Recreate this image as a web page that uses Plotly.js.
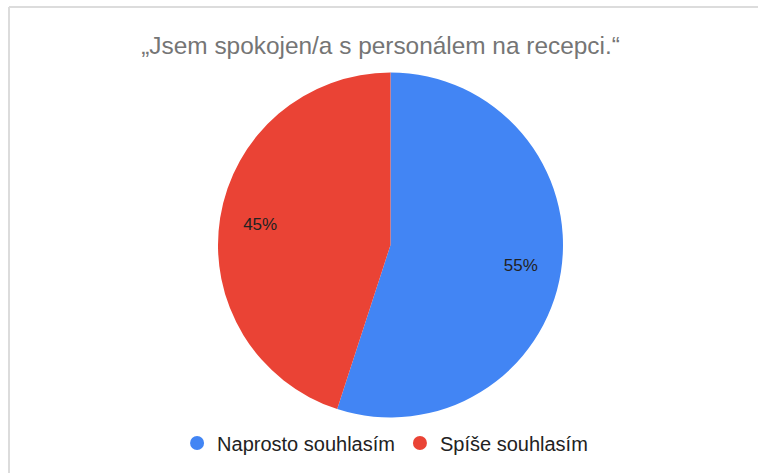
<!DOCTYPE html>
<html>
<head>
<meta charset="utf-8">
<script src="https://cdn.plot.ly/plotly-3.0.1.min.js"></script>
<style>
html,body{margin:0;padding:0;background:#fff;}
#chart{width:758px;height:473px;}
</style>
</head>
<body>
<div id="chart"></div>
<script>
const titleText = '\u201EJsem spokojen/a s personálem na recepci.\u201C';
const categories = ['Naprosto souhlasím', 'Spíše souhlasím'];
const values = [55, 45];
const colors = ['#4285f4', '#ea4335'];

const pieDomain = {x: [218/758, 563/758], y: [1 - 417.5/473, 1 - 72.5/473]};

const pieTrace = {
  type: 'pie',
  labels: categories,
  values: values,
  sort: false,
  direction: 'clockwise',
  rotation: 0,
  marker: {colors: colors, line: {width: 0}},
  textinfo: 'none',
  hoverinfo: 'label+percent',
  showlegend: false,
  domain: pieDomain
};

// transparent ring carrying the percentage labels further out on the radius
const labelTrace = {
  type: 'pie',
  labels: categories,
  values: values,
  sort: false,
  direction: 'clockwise',
  rotation: 0,
  hole: 0.53,
  marker: {colors: ['rgba(0,0,0,0)', 'rgba(0,0,0,0)'], line: {width: 0}},
  textinfo: 'percent',
  textposition: 'inside',
  insidetextorientation: 'horizontal',
  textfont: {family: 'Liberation Sans, Arial, sans-serif', size: 17, color: '#222222'},
  hoverinfo: 'skip',
  showlegend: false,
  domain: pieDomain
};

const legendTraces = categories.map((c, i) => ({
  type: 'scatter',
  mode: 'markers',
  x: [null], y: [null],
  name: c,
  marker: {symbol: 'circle', size: 14, color: colors[i]},
  showlegend: true,
  hoverinfo: 'skip'
}));

const layout = {
  width: 758, height: 473,
  margin: {l: 0, r: 0, t: 0, b: 0},
  paper_bgcolor: '#ffffff',
  plot_bgcolor: 'rgba(0,0,0,0)',
  title: {
    text: titleText,
    font: {family: 'Liberation Sans, Arial, sans-serif', size: 24.4, color: '#757575'},
    x: 0.502, xanchor: 'center', xref: 'paper',
    y: 1 - 45.5/473, yanchor: 'middle', yref: 'container'
  },
  xaxis: {visible: false},
  yaxis: {visible: false},
  showlegend: true,
  legend: {
    orientation: 'h',
    x: 0.508, xanchor: 'center',
    y: 1 - 443/473, yanchor: 'middle',
    font: {family: 'Liberation Sans, Arial, sans-serif', size: 20, color: '#222222'},
    itemsizing: 'trace',
    itemwidth: 30,
    traceorder: 'normal',
    bgcolor: 'rgba(0,0,0,0)'
  },
  shapes: [
    {type: 'line', xref: 'paper', yref: 'paper', x0: 9/758, x1: 9/758, y0: 0, y1: 1 - 7/473, line: {color: '#dcdcdc', width: 2}},
    {type: 'line', xref: 'paper', yref: 'paper', x0: 9/758, x1: 1, y0: 1 - 7/473, y1: 1 - 7/473, line: {color: '#dcdcdc', width: 2}}
  ]
};

Plotly.newPlot('chart', [pieTrace, labelTrace].concat(legendTraces), layout, {displayModeBar: false, staticPlot: true});
</script>
</body>
</html>
